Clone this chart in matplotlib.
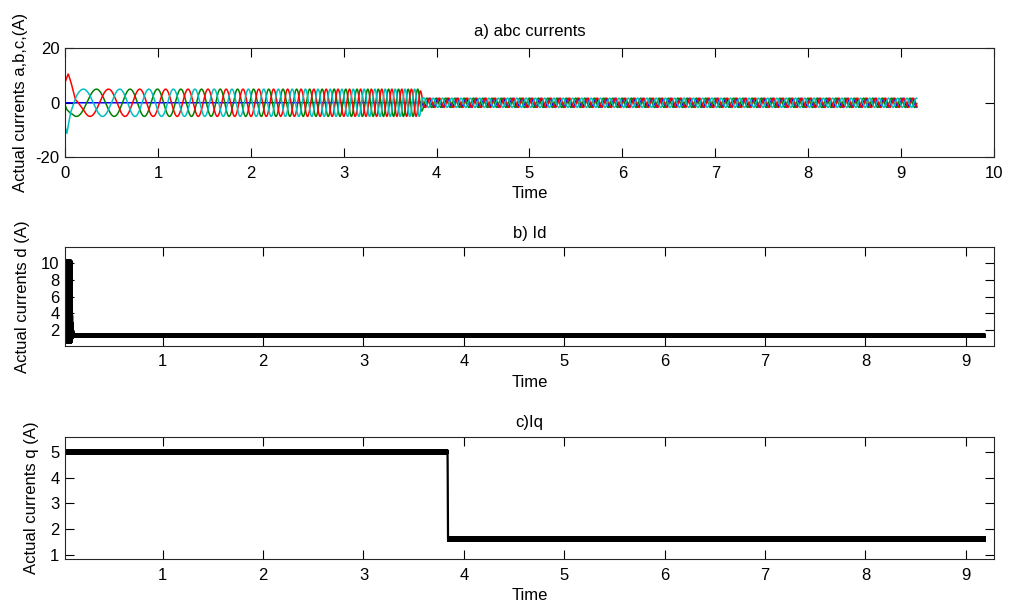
import numpy as np
import matplotlib
matplotlib.use("Agg")
import matplotlib.pyplot as plt

plt.rcParams["font.family"] = ["Liberation Sans", "DejaVu Sans"]
plt.rcParams["font.size"] = 12
plt.rcParams["axes.unicode_minus"] = False

# ---- a) abc currents: envelope / frequency ----
t_end_abc = 9.17
amp_t = [0.0, 3.82, 3.86, 9.17]
amp_val = [5.0, 5.0, 1.7, 1.7]
blue_amp = [0.0, 0.0, 1.6, 1.6]
freq_t = [0.0, 0.5, 1.0, 2.0, 3.0, 3.83, 9.17]
freq_hz = [2.0, 2.7, 3.7, 5.9, 8.1, 10.0, 10.0]
# start-up transient (offsets on each phase)
red_tr_t = [0.0, 0.035, 0.11, 0.2]
red_tr = [3.2, 5.6, -2.0, 0.0]
cyan_tr_t = [0.0, 0.02, 0.06, 0.12]
cyan_tr = [-4.0, -7.5, -2.0, 0.0]
green_tr_t = [0.0, 0.02, 0.08]
green_tr = [-1.0, -1.5, 0.0]

# ---- b) Id ----
id_t = [0.027, 0.03, 0.09, 0.1, 0.12, 9.19]
id_mid = [5.4, 5.4, 5.4, 1.6, 1.34, 1.34]
id_rip = [4.9, 4.9, 4.9, 0.5, 0.14, 0.14]

# ---- c) Iq ----
iq_t = [0.027, 3.838, 3.842, 9.19]
iq_mid = [5.0, 5.0, 1.62, 1.62]
iq_rip = [0.06, 0.06, 0.07, 0.07]

dt = 0.0005
t = np.arange(0, t_end_abc, dt)
f = np.interp(t, freq_t, freq_hz)
theta = 2 * np.pi * np.cumsum(f) * dt
theta += 1.5 * np.pi - np.interp(0.27, t, theta)
A = np.interp(t, amp_t, amp_val)
ia = A * np.sin(theta) + np.interp(t, red_tr_t, red_tr, right=0)
ib = A * np.sin(theta + 2 * np.pi / 3) + np.interp(t, green_tr_t, green_tr, right=0)
ic = A * np.sin(theta - 2 * np.pi / 3) + np.interp(t, cyan_tr_t, cyan_tr, right=0)
i0 = np.interp(t, amp_t, blue_amp) * np.sin(theta + np.pi / 4)

# switching ripple: sample-to-sample chatter around the mean value
t2 = np.arange(id_t[0], id_t[-1], dt)
chat2 = np.where(np.arange(t2.size) % 2 == 0, 1.0, -1.0)
id_sig = np.interp(t2, id_t, id_mid) + np.interp(t2, id_t, id_rip) * chat2
t3 = np.arange(iq_t[0], iq_t[-1], dt)
chat3 = np.where(np.arange(t3.size) % 2 == 0, 1.0, -1.0)
iq_sig = np.interp(t3, iq_t, iq_mid) + np.interp(t3, iq_t, iq_rip) * chat3

fig = plt.figure(figsize=(10.09, 6.04), dpi=100)
ax1 = fig.add_axes([0.0644, 0.7396, 0.9207, 0.1805])
ax2 = fig.add_axes([0.0644, 0.4276, 0.9207, 0.1629])
ax3 = fig.add_axes([0.0644, 0.0740, 0.9207, 0.2030])

ax1.plot(t, i0, color="#0000ff", lw=1.1)
ax1.plot(t, ib, color="#008000", lw=1.1)
ax1.plot(t, ia, color="#ff0000", lw=1.1)
ax1.plot(t, ic, color="#00bfbf", lw=1.1)
ax1.set_xlim(0, 10)
ax1.set_ylim(-20, 20)
ax1.set_xticks(range(0, 11))
ax1.set_yticks([-20, 0, 20])
ax1.set_title("a) abc currents", fontsize=12, pad=9)
ax1.set_ylabel("Actual currents a,b,c,(A)", labelpad=5)

ax2.plot(t2, id_sig, color="k", lw=1.6)
ax2.set_xlim(0.027, 9.28)
ax2.set_ylim(0.12, 11.9)
ax2.set_xticks(range(1, 10))
ax2.set_yticks([2, 4, 6, 8, 10])
ax2.set_title("b) Id", fontsize=12, pad=7)
ax2.set_ylabel("Actual currents d (A)", labelpad=8)

ax3.plot(t3, iq_sig, color="k", lw=1.6)
ax3.set_xlim(0.027, 9.28)
ax3.set_ylim(0.83, 5.59)
ax3.set_xticks(range(1, 10))
ax3.set_yticks([1, 2, 3, 4, 5])
ax3.set_title("c)Iq", fontsize=12, pad=7)
ax3.set_ylabel("Actual currents q (A)", labelpad=8)

for ax in (ax1, ax2, ax3):
    ax.set_xlabel("Time", labelpad=4)
    ax.tick_params(direction="in", top=True, right=True, length=6.5, width=0.8, pad=6)
    ax.tick_params(axis="y", pad=4)
    for s in ax.spines.values():
        s.set_linewidth(0.8)
        s.set_color("#262626")

fig.savefig("out.png", dpi=100)
